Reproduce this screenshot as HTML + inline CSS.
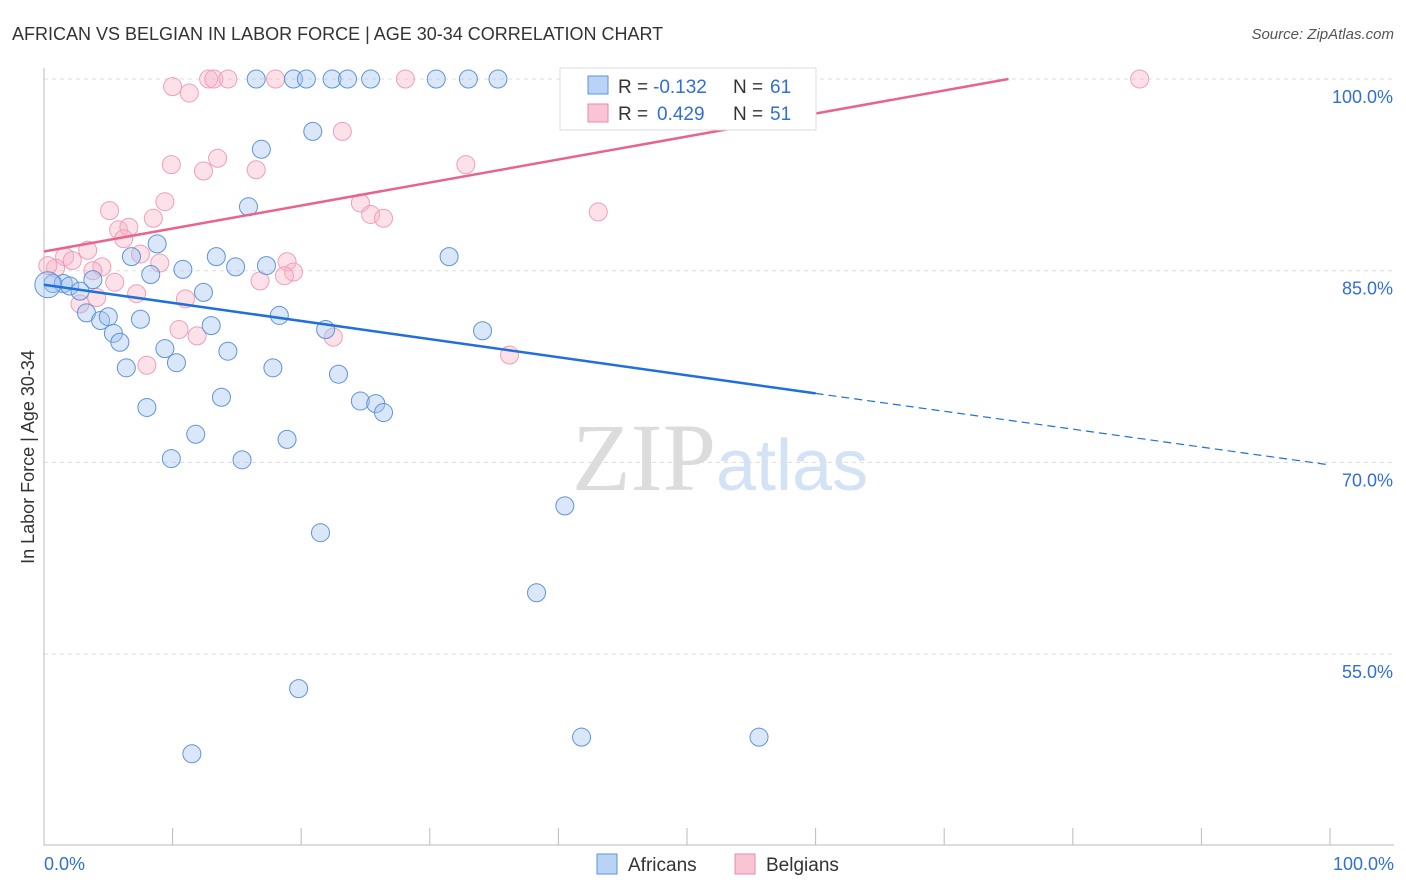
<!DOCTYPE html>
<html><head><meta charset="utf-8"><style>
body{margin:0;background:#fff;font-family:"Liberation Sans",sans-serif;}
svg{display:block}
</style></head><body>
<svg id="c" width="1406" height="892" xmlns="http://www.w3.org/2000/svg">
<text x="12" y="40" font-size="18" fill="#333">AFRICAN VS BELGIAN IN LABOR FORCE | AGE 30-34 CORRELATION CHART</text>
<text x="1394" y="39" font-size="15" fill="#555" font-style="italic" text-anchor="end">Source: ZipAtlas.com</text>
<text x="34" y="457" font-size="18" fill="#333" text-anchor="middle" transform="rotate(-90 34 457)">In Labor Force | Age 30-34</text>
<text x="716" y="490" font-size="96" fill="#dcdcdc" text-anchor="end" font-family="Liberation Serif,serif">ZIP</text>
<text x="716" y="490" font-size="72" fill="#d3e2f4">atlas</text>
<g id="grid"></g><g id="marks"></g>
<g>
<rect x="560" y="68" width="256" height="62" fill="#fff" stroke="#ddd"/>
<rect x="588" y="76" width="20" height="18" fill="#b8d3f5" stroke="#5b93d9"/>
<rect x="588" y="104" width="20" height="18" fill="#f9c4d3" stroke="#e98aa8"/>
<text y="93" font-size="19" fill="#333"><tspan x="618">R =</tspan><tspan x="653" fill="#2f6fd6">-0.132</tspan><tspan x="733">N =</tspan><tspan x="770" fill="#2f6fd6">61</tspan></text>
<text y="120" font-size="19" fill="#333"><tspan x="618">R =</tspan><tspan x="657" fill="#2f6fd6">0.429</tspan><tspan x="733">N =</tspan><tspan x="770" fill="#2f6fd6">51</tspan></text>
</g>
<g>
<rect x="597" y="854" width="20" height="20" fill="#b8d3f5" stroke="#5b93d9"/>
<text x="628" y="871" font-size="19" fill="#333">Africans</text>
<rect x="735" y="854" width="20" height="20" fill="#f9c4d3" stroke="#e98aa8"/>
<text x="766" y="871" font-size="19" fill="#333">Belgians</text>
</g>
</svg>
<script>
const yTicks=[100,85,70,55];
const xTickLabels=["0.0%","100.0%"];
const afrX=[16.5,19.4,20.4,22.4,23.6,25.4,30.5,33,35.3,43.3,20.9,16.9,15.9,8.8,6.8,13.4,10.8,14.9,17.3,31.5,8.3,3.8,0.7,1.5,2,2.8,12.4,3.3,4.4,5,7.5,18.3,13,21.9,5.4,34.1,5.9,9.4,14.3,10.3,6.4,17.8,22.9,13.8,24.6,25.8,26.4,8,11.8,18.9,9.9,15.4,40.5,21.5,38.3,19.8,11.5,41.8,55.6,0.3];
const afrY=[100,100,100,100,100,100,100,100,100,100,95.9,94.5,90,87.1,86.1,86.1,85.1,85.3,85.4,86.1,84.7,84.3,84,84,83.8,83.4,83.3,81.7,81.1,81.4,81.2,81.5,80.7,80.4,80.1,80.3,79.4,78.9,78.7,77.8,77.4,77.4,76.9,75.1,74.8,74.6,73.9,74.3,72.2,71.8,70.3,70.2,66.6,64.5,59.8,52.3,47.2,48.5,48.5,83.9];
const belX=[10,11.3,12.8,13.2,14.3,18,28.1,52.3,85.2,23.2,13.5,9.9,12.4,16.5,32.8,5.1,9.4,8.5,24.6,25.4,26.4,43.1,5.8,6.6,6.2,7.5,1.6,2.2,3.4,4.5,3.8,9,0.9,0.3,18.9,19.4,18.7,16.8,5.5,7.2,11,4.1,2.8,10.5,11.9,22.5,8,36.2];
const belY=[99.4,98.9,100,100,100,100,100,100,100,95.9,93.8,93.3,92.8,92.9,93.3,89.7,90.4,89.1,90.3,89.4,89.1,89.6,88.2,88.4,87.5,86.3,86.1,85.8,86.6,85.3,85,85.6,85.2,85.4,85.7,84.9,84.6,84.2,84.1,83.2,82.8,82.9,82.4,80.4,79.9,79.8,77.6,78.4];
const afrLine=[0,83.9,60,75.4,100,69.8];
const belLine=[0,86.5,75,100];
const X=v=>44+v*12.86, Y=v=>79+(100-v)*12.78;
const NS="http://www.w3.org/2000/svg";
const c=document.getElementById('c'),g=document.getElementById('grid'),m=document.getElementById('marks');
function mk(p,tag,a){const e=document.createElementNS(NS,tag);for(const k in a)e.setAttribute(k,a[k]);p.appendChild(e);return e;}
yTicks.forEach(t=>{const l=mk(g,'line',{x1:44,x2:1394,y1:Y(t),y2:Y(t),stroke:'#ddd','stroke-dasharray':'4 4'});


const tx=mk(g,'text',{x:1393,y:Y(t)+24,'font-size':18,fill:'#2f6fd6','text-anchor':'end'});tx.textContent=t.toFixed(1)+'%';

});
const ax=mk(g,'path',{d:'M44 68V845H1394',stroke:'#bbb',fill:'none'});


for(let i=0;i<=10;i++){const t=mk(g,'line',{x1:X(i*10),x2:X(i*10),y1:828,y2:845,stroke:'#bbb'});

}
[[0,'start',44],[1,'end',1394]].forEach(([i,a,x])=>{const t=mk(g,'text',{x:x,y:870,'font-size':18,fill:'#2f6fd6','text-anchor':a});t.textContent=xTickLabels[i];

});
belX.forEach((v,i)=>{const e=mk(m,'circle',{cx:X(v),cy:Y(belY[i]),r:9,fill:'rgba(248,180,200,0.4)',stroke:'#ef9fb8','stroke-width':1});

});
afrX.forEach((v,i)=>{const e=mk(m,'circle',{cx:X(v),cy:Y(afrY[i]),r:i==afrX.length-1?13:9,fill:'rgba(160,195,240,0.4)',stroke:'#5f93db','stroke-width':1});

});
let l=mk(m,'line',{x1:X(afrLine[0]),y1:Y(afrLine[1]),x2:X(afrLine[2]),y2:Y(afrLine[3]),stroke:'#1f6fdc','stroke-width':2.5});


l=mk(m,'line',{x1:X(afrLine[2]),y1:Y(afrLine[3]),x2:X(afrLine[4]),y2:Y(afrLine[5]),stroke:'#1f6fdc','stroke-width':1.2,'stroke-dasharray':'8 5'});


l=mk(m,'line',{x1:X(belLine[0]),y1:Y(belLine[1]),x2:X(belLine[2]),y2:Y(belLine[3]),stroke:'#e8648f','stroke-width':2.5});


</script>
</body></html>
